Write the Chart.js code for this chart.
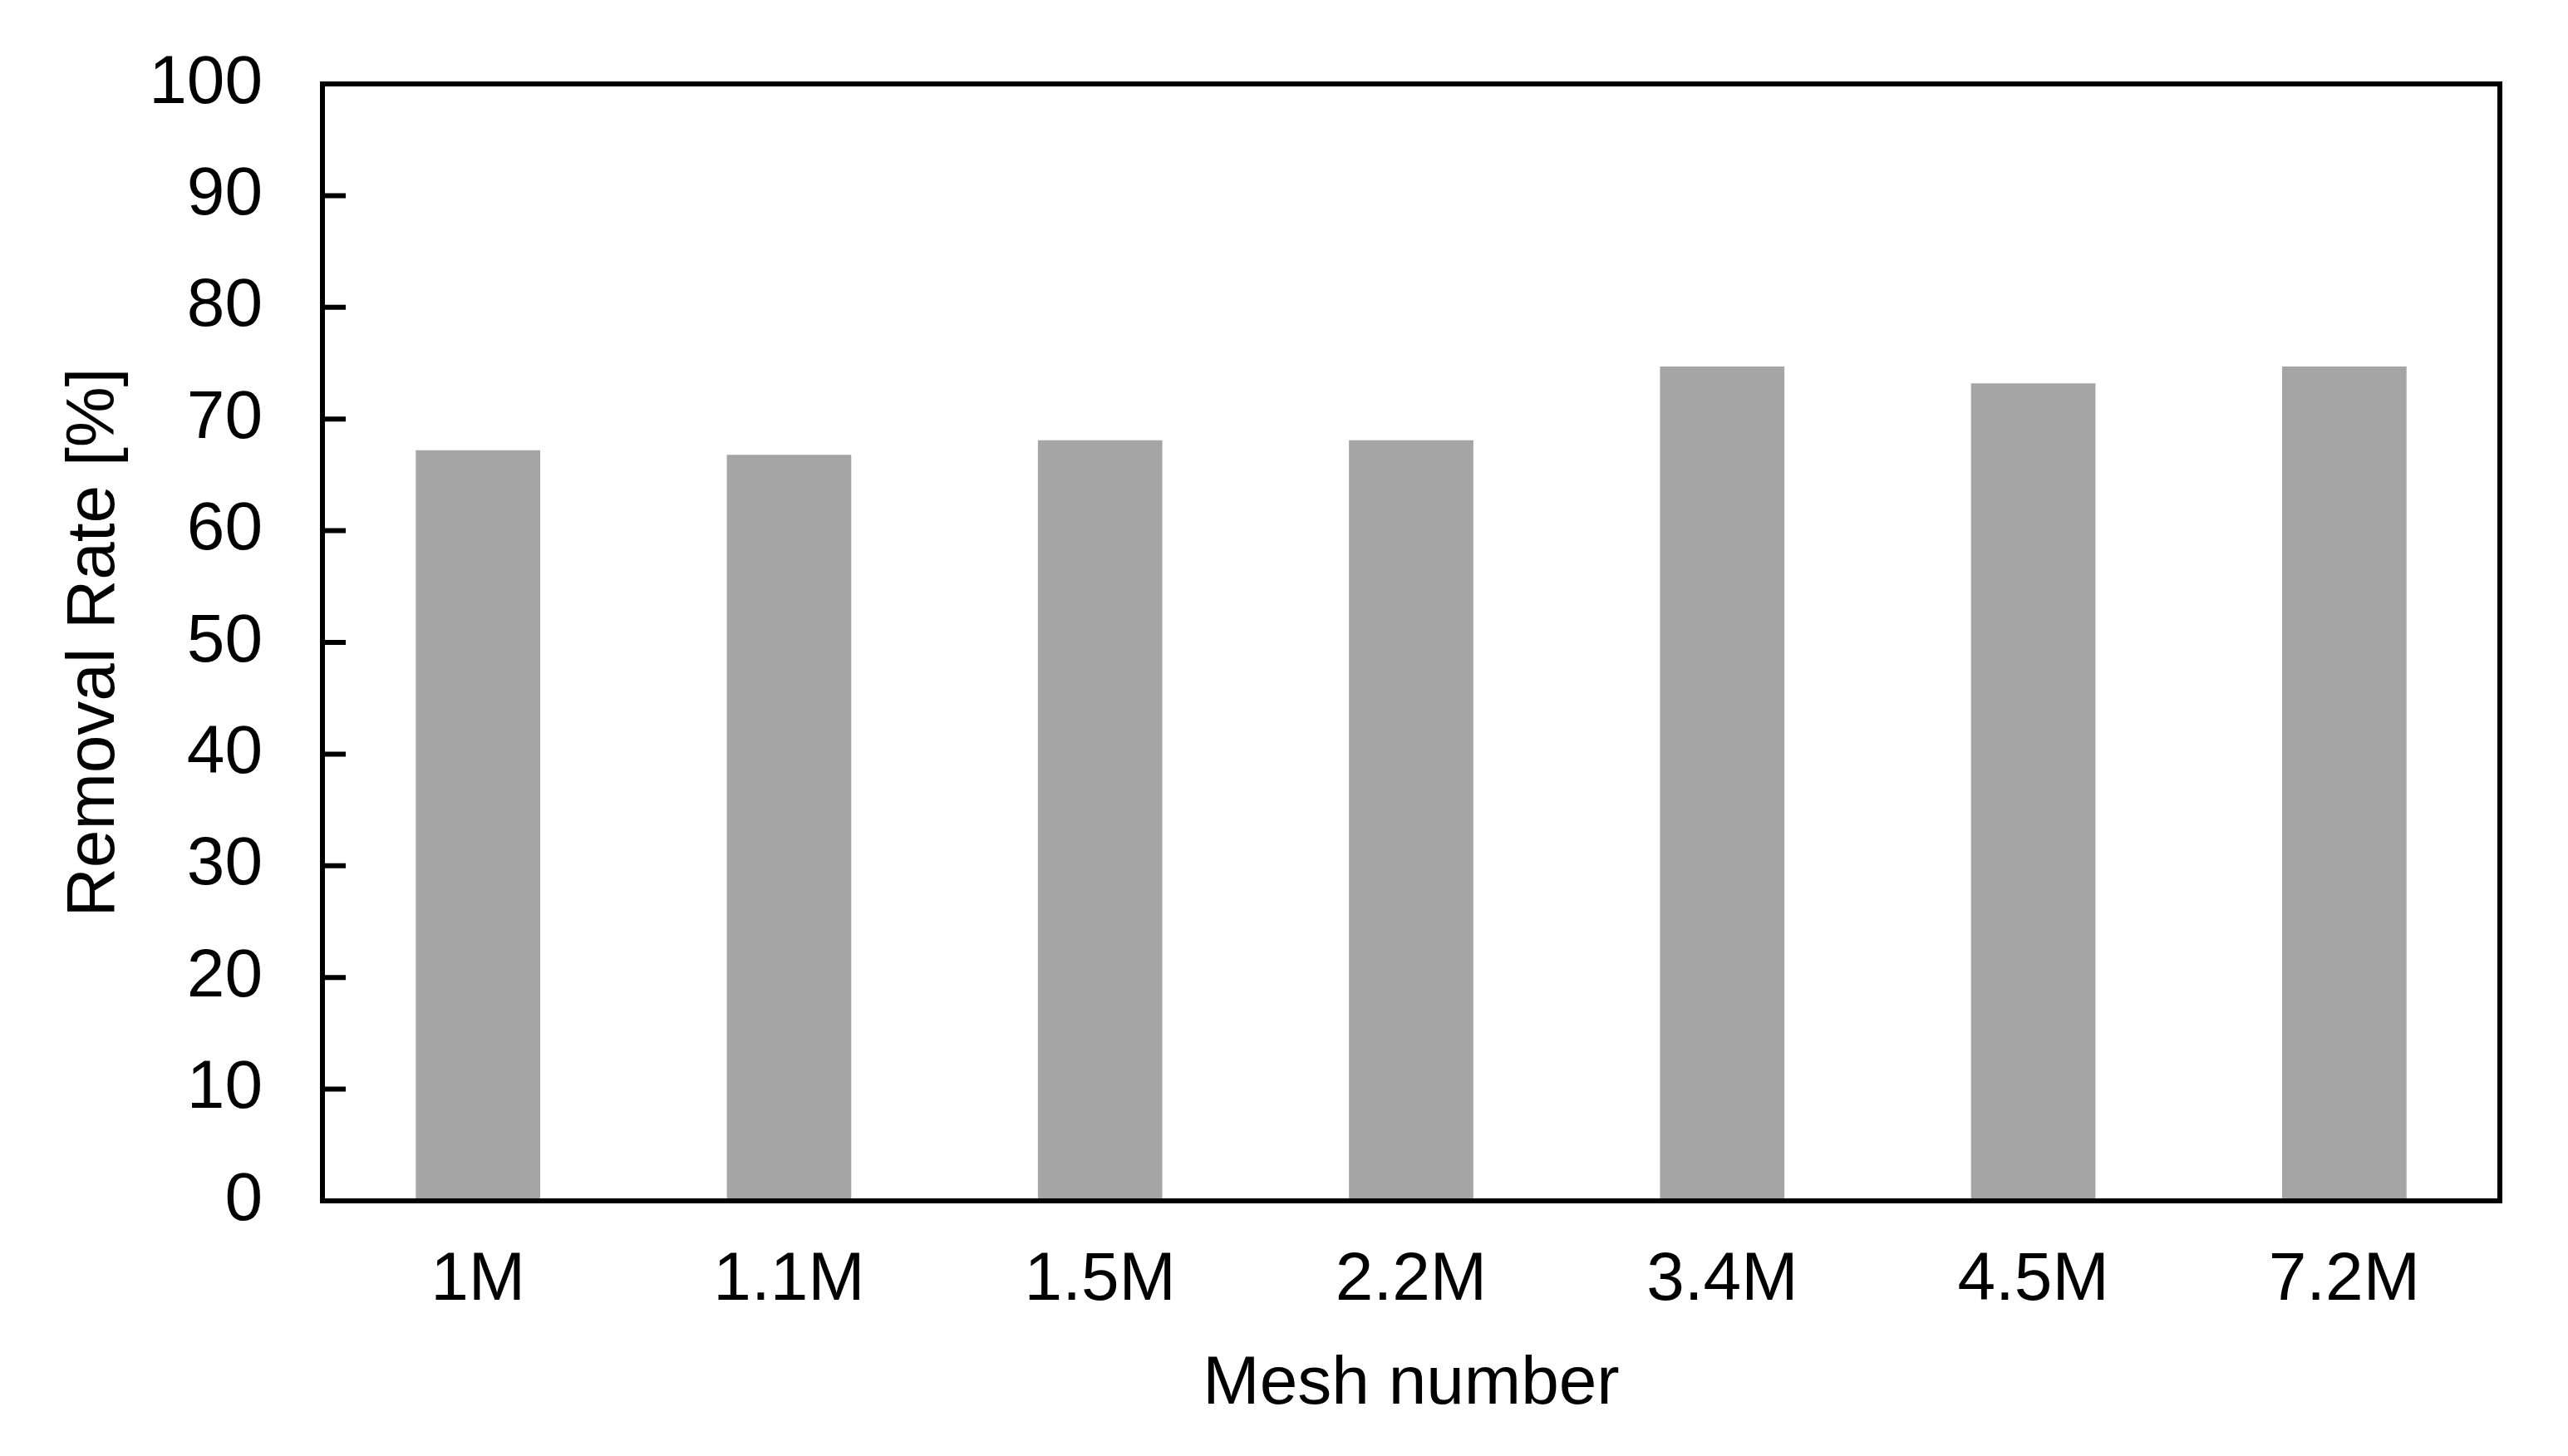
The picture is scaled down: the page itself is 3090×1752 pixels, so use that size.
<!DOCTYPE html>
<html>
<head>
<meta charset="utf-8">
<script src="https://cdn.jsdelivr.net/npm/chart.js"></script>
<style>
  html, body { margin: 0; padding: 0; background: #fff; }
  #wrap { width: 3090px; height: 1752px; }
</style>
</head>
<body>
<div id="wrap"><canvas id="grafico" width="3090" height="1752"></canvas></div>
<script>
// dados do gráfico
const categorias = ['1M', '1.1M', '1.5M', '2.2M', '3.4M', '4.5M', '7.2M'];
const taxaRemocao = [67.2, 66.8, 68.1, 68.1, 74.7, 73.2, 74.7];
const ticksY = [0, 10, 20, 30, 40, 50, 60, 70, 80, 90, 100];

const fonte = { family: '"Liberation Sans", Arial, sans-serif', size: 82 };

// moldura + marcas internas do eixo y
const molduraPlugin = {
  id: 'moldura',
  afterDraw(chart) {
    const { ctx, chartArea } = chart;
    const y = chart.scales.y;
    ctx.save();
    ctx.strokeStyle = '#000';
    ctx.lineWidth = 6;
    ctx.beginPath();
    ticksY.forEach(v => {
      const py = y.getPixelForValue(v);
      ctx.moveTo(chartArea.left, py);
      ctx.lineTo(chartArea.left + 28, py);
    });
    ctx.stroke();
    ctx.strokeRect(chartArea.left, chartArea.top, chartArea.right - chartArea.left, chartArea.bottom - chartArea.top);
    ctx.restore();
  }
};

window.addEventListener('DOMContentLoaded', () => {
  const ctx = document.getElementById('grafico').getContext('2d');

  new Chart(ctx, {
    type: 'bar',
    data: {
      labels: categorias,
      datasets: [{
        label: 'Removal Rate [%]',
        data: taxaRemocao,
        backgroundColor: '#a5a5a5',
        borderWidth: 0,
        categoryPercentage: 1.0,
        barPercentage: 0.4
      }]
    },
    options: {
      responsive: false,
      animation: false,
      layout: { padding: { top: 101, right: 82, bottom: 0, left: 0 } },
      plugins: {
        legend: { display: false },
        tooltip: { enabled: false }
      },
      scales: {
        x: {
          grid: { display: false, drawTicks: false },
          border: { display: false },
          ticks: { color: '#000', font: fonte, padding: 47, maxRotation: 0 },
          title: {
            display: true,
            text: 'Mesh number',
            color: '#000',
            font: fonte,
            padding: { top: 0, bottom: 36 }
          },
          afterFit(scale) { scale.height = 307; }
        },
        y: {
          min: 0,
          max: 100,
          afterBuildTicks(scale) { scale.ticks = ticksY.map(v => ({ value: v })); },
          grid: { display: false, drawTicks: false },
          border: { display: false },
          ticks: { color: '#000', font: fonte, padding: 72 },
          title: {
            display: true,
            text: 'Removal Rate [%]',
            color: '#000',
            font: fonte,
            padding: { top: 65, bottom: 0 }
          },
          afterFit(scale) {
            scale.width = 388;
            // padding dos rótulos não deve empurrar a área do gráfico
            scale.paddingTop = 0;
            scale.paddingBottom = 0;
          }
        }
      }
    },
    plugins: [molduraPlugin]
  });
});
</script>
</body>
</html>
